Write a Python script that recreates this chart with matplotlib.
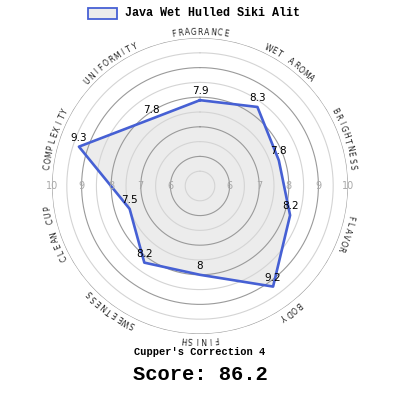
import numpy as np
import matplotlib.pyplot as plt
from matplotlib.patches import Rectangle

categories = ["FRAGRANCE", "WET AROMA", "BRIGHTNESS", "FLAVOR", "BODY",
              "FINISH", "SWEETNESS", "CLEAN CUP", "COMPLEXITY", "UNIFORMITY"]
scores = [7.9, 8.3, 7.8, 8.2, 9.2, 8.0, 8.2, 7.5, 9.3, 7.8]
tick_values = [6, 7, 8, 9, 10]
series_name = "Java Wet Hulled Siki Alit"
correction_text = "Cupper's Correction 4"
score_text = "Score: 86.2"

blue = "#4660d4"
fill = "#ececec"

fig = plt.figure(figsize=(4, 4), dpi=100)
ax = fig.add_axes([0.13, 0.165, 0.74, 0.74], projection="polar")
ax.set_theta_offset(np.pi / 2)
ax.set_theta_direction(-1)
ax.set_ylim(5, 10)
ax.grid(False)
ax.set_xticks([])
ax.set_yticks([])
ax.spines["polar"].set_visible(False)
ax.patch.set_alpha(0)

n = len(categories)
angles = np.arange(n) * 2 * np.pi / n

# rings
t = np.linspace(0, 2 * np.pi, 400)
for r in np.arange(5.5, 10.01, 0.5):
    col = "#9a9a9a" if r == int(r) else "#d4d4d4"
    ax.plot(t, np.full_like(t, r), color=col, lw=0.8, zorder=2)

# data polygon
th = np.append(angles, angles[0])
vals = np.append(scores, scores[0])
ax.fill(th, vals, color=fill, zorder=1)
ax.plot(th, vals, color=blue, lw=1.9, zorder=3)

# value labels
for a, v in zip(angles, scores):
    lbl = "%g" % v
    ax.annotate(lbl, (a, v), xytext=(0, 6.5), textcoords="offset points",
                ha="center", va="center", fontsize=7.5, color="black", zorder=4)

# scale labels on both sides
for v in tick_values:
    for a in (np.pi / 2, 3 * np.pi / 2):
        ax.text(a, v, str(v), ha="center", va="center", fontsize=7,
                color="#a8a8a8", zorder=4)

# curved category labels
label_r = 10.2
dtheta = 0.0425
for a, name in zip(angles, categories):
    k = len(name)
    for j, ch in enumerate(name):
        ta = a + (j - (k - 1) / 2) * dtheta
        ax.text(ta, label_r, ch, rotation=-np.degrees(ta), rotation_mode="anchor",
                ha="center", va="center", fontsize=5.5, color="#222222")

# legend
fig.patches.append(Rectangle((88 / 400, 1 - 19 / 400), 29 / 400, 11 / 400,
                             transform=fig.transFigure, facecolor=fill,
                             edgecolor=blue, lw=1.3))
fig.text(125 / 400, 1 - 13.5 / 400, series_name, ha="left", va="center",
         family="Liberation Mono", weight="bold", fontsize=8.5)

fig.text(0.5, 1 - 352 / 400, correction_text, ha="center", va="center",
         family="Liberation Mono", weight="bold", fontsize=7.5)
fig.text(0.5, 1 - 374 / 400, score_text, ha="center", va="center",
         family="Liberation Mono", weight="bold", fontsize=14.8)

fig.savefig("out.png", dpi=100)
